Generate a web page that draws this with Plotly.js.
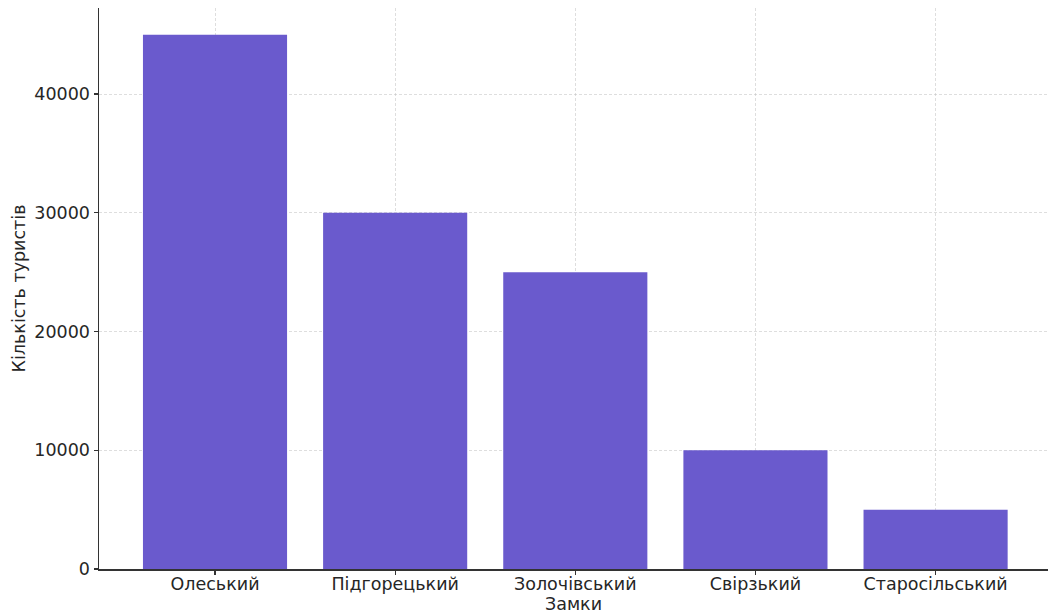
<!DOCTYPE html>
<html><head><meta charset="utf-8">
<script src="https://cdn.plot.ly/plotly-3.0.1.min.js"></script>
<style>html,body{margin:0;padding:0;background:#fff;}#chart{width:1048px;height:614px;}</style>
</head><body><div id="chart"></div>
<script>
const castles = ["Олеський", "Підгорецький", "Золочівський", "Свірзький", "Старосільський"];
const tourists = [45000, 30000, 25000, 10000, 5000];
const yTicks = [0, 10000, 20000, 30000, 40000];

const font = {family: "DejaVu Sans, sans-serif", size: 17.5, color: "#262626"};
Plotly.newPlot("chart", [{
  type: "bar",
  x: castles,
  y: tourists,
  width: 0.8,
  marker: {color: "#6A5ACD", line: {width: 0}},
  hoverinfo: "none"
}], {
  width: 1048, height: 614,
  margin: {l: 99, r: 0, t: 8, b: 45},
  paper_bgcolor: "#fff", plot_bgcolor: "#fff",
  font: font,
  showlegend: false,
  xaxis: {
    type: "category",
    range: [-0.644, 4.624],
    showgrid: true, gridcolor: "rgba(190,190,190,0.5)", griddash: "3px,2px", gridwidth: 1,
    showline: true, linecolor: "#333", linewidth: 1.5,
    ticks: "outside", ticklen: 4, tickcolor: "#333", tickwidth: 1.2,
    tickfont: font,
    ticklabelstandoff: -6,
    layer: "above traces",
    zeroline: false,
    title: {text: "Замки", font: font, standoff: 4},
    automargin: false
  },
  yaxis: {
    range: [0, 47250],
    tickvals: yTicks,
    ticktext: yTicks.map(String),
    showgrid: true, gridcolor: "rgba(190,190,190,0.5)", griddash: "3px,2px", gridwidth: 1,
    showline: true, linecolor: "#333", linewidth: 1.5,
    ticks: "outside", ticklen: 4, tickcolor: "#333", tickwidth: 1.2,
    tickfont: font,
    layer: "above traces",
    zeroline: false,
    title: {text: "Кількість туристів", font: font, standoff: 4},
    automargin: false
  }
}, {staticPlot: true});
</script></body></html>
